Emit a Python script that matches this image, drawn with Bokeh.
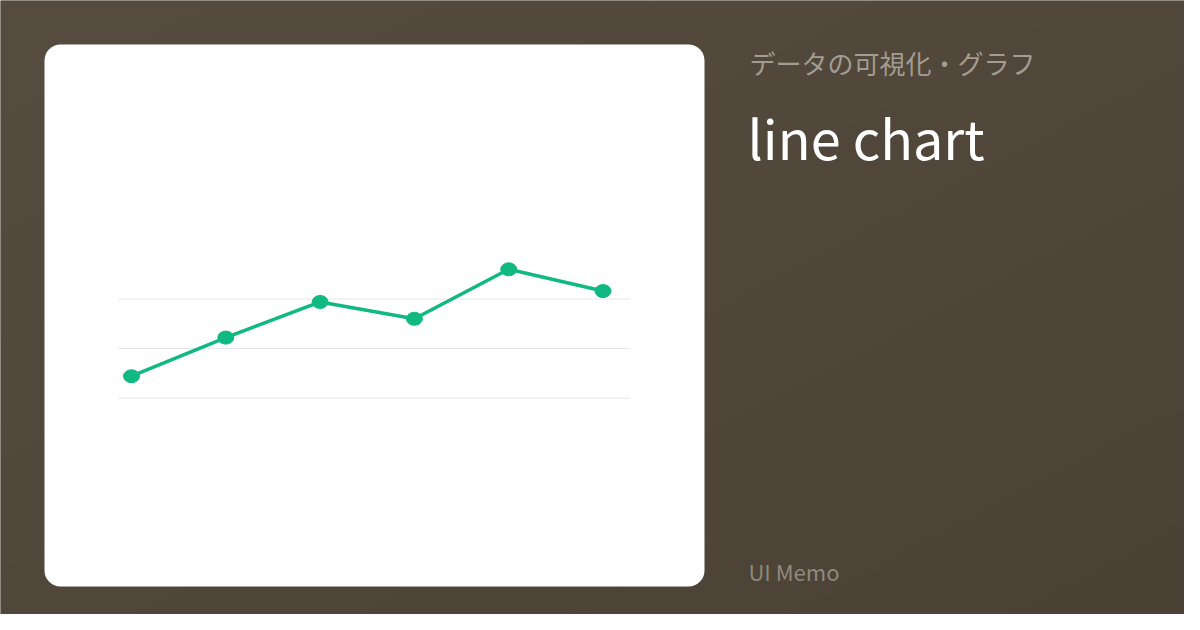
import numpy as np
from bokeh.plotting import figure
from bokeh.models import Range1d, Label
from bokeh.embed import file_html
from bokeh.resources import INLINE

# ---- data ----
points = [0, 1, 2, 3, 4, 5]
values = [22, 61, 97, 80, 130, 108]
grid_values = [0, 50, 100]

subtitle = "データの可視化・グラフ"
title = "line chart"
footer = "UI Memo"

# ---- page (page coordinates, y measured from bottom of 1200x630 canvas) ----
W, H = 1200, 630
FONT = "Noto Sans CJK JP"

p = figure(width=1184, height=614, x_range=Range1d(0, 1184), y_range=Range1d(H - 614, H),
           output_backend="svg", toolbar_location=None, min_border=0)
p.axis.visible = False
p.grid.visible = False
p.outline_line_color = None
p.background_fill_color = "#524939"
p.border_fill_color = "#524939"

# background gradient (top-left lighter to bottom-right darker)
gw, gh = 240, 126
xs = np.linspace(0, 1, gw)[None, :]
ys = 1 - np.linspace(0, 1, gh)[:, None]  # fraction from top
d = (xs + ys) / 2.0
c0 = np.array([86, 77, 64])
c1 = np.array([75, 65, 52])
rgb = c0[None, None, :] * (1 - d[..., None]) + c1[None, None, :] * d[..., None]
img = np.empty((gh, gw), dtype=np.uint32)
view = img.view(dtype=np.uint8).reshape((gh, gw, 4))
view[..., 0] = rgb[..., 0].astype(np.uint8)
view[..., 1] = rgb[..., 1].astype(np.uint8)
view[..., 2] = rgb[..., 2].astype(np.uint8)
view[..., 3] = 255
p.image_rgba(image=[img], x=0, y=0, dw=W, dh=H)

# white card
p.quad(left=44, right=704, bottom=H - 586, top=H - 44, fill_color="white",
       line_color=None, border_radius=16)

# ---- chart inside the card ----
sub = p.subplot(x_source=Range1d(0, 5), x_target=Range1d(131, 602.5),
                y_source=Range1d(0, 100), y_target=Range1d(H - 397.5, H - 298.5))

sub.segment(x0=[-0.14] * len(grid_values), x1=[5.29] * len(grid_values),
            y0=grid_values, y1=grid_values, line_color="#e5e7eb", line_width=1)
sub.line(points, values, line_color="#10b981", line_width=3.5)
sub.ellipse(points, values, width=16, height=13, width_units="screen", height_units="screen",
            fill_color="#10b981", line_color="#10b981")

# ---- texts ----
p.add_layout(Label(x=749, y=H - 62, text=subtitle, text_font=FONT, text_font_size="26px",
                   text_color="#a39c92", text_baseline="alphabetic"))
p.add_layout(Label(x=747, y=H - 136, text=title, text_font=FONT, text_font_size="54px",
                   text_color="#ffffff", text_baseline="alphabetic"))
p.add_layout(Label(x=748, y=H - 570, text=footer, text_font=FONT, text_font_size="22px",
                   text_color="#8f887d", text_baseline="alphabetic"))

open("out.html", "w").write(file_html(p, INLINE))
